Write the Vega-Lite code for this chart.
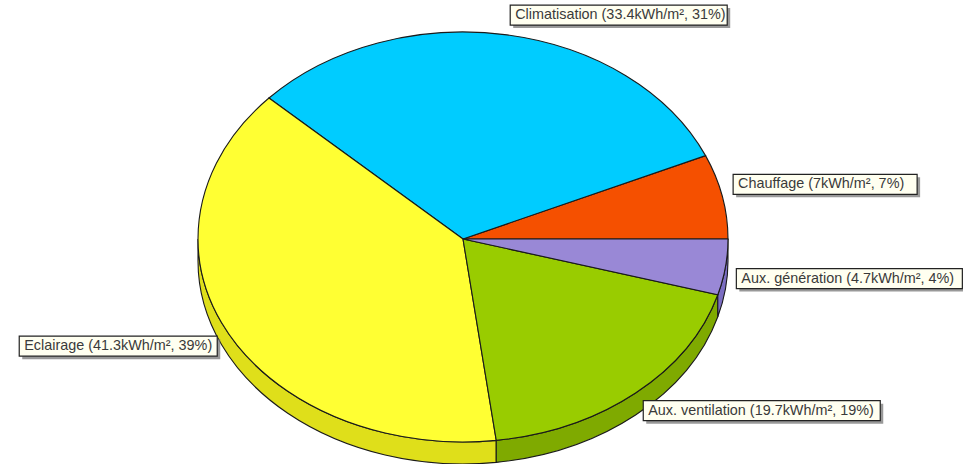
{
  "$schema": "https://vega.github.io/schema/vega-lite/v6.json",
  "width": 963,
  "height": 464,
  "padding": 0,
  "autosize": "none",
  "background": "white",
  "view": {"stroke": null},
  "resolve": {"scale": {"fill": "independent"}},
  "data": {"values": [
    {"slice": "Chauffage", "value": 7, "label": "Chauffage (7kWh/m², 7%)"},
    {"slice": "Climatisation", "value": 33.4, "label": "Climatisation (33.4kWh/m², 31%)"},
    {"slice": "Eclairage", "value": 41.3, "label": "Eclairage (41.3kWh/m², 39%)"},
    {"slice": "Aux. ventilation", "value": 19.7, "label": "Aux. ventilation (19.7kWh/m², 19%)"},
    {"slice": "Aux. génération", "value": 4.7, "label": "Aux. génération (4.7kWh/m², 4%)"}
  ]},
  "transform": [
    {"window": [{"op": "sum", "field": "value", "as": "s1"}], "frame": [null, 0]},
    {"calculate": "datum.s1-datum.value", "as": "s0"},
    {"joinaggregate": [{"op": "sum", "field": "value", "as": "total"}]},
    {"calculate": "datum.s0/datum.total*2*PI", "as": "a0"},
    {"calculate": "datum.s1/datum.total*2*PI", "as": "a1"},
    {"calculate": "round(265*cos(datum.a0)*100)/100+','+round(-(sin(datum.a0)>=0?207:203)*sin(datum.a0)*100)/100", "as": "p0"},
    {"calculate": "round(265*cos(datum.a1)*100)/100+','+round(-(sin(datum.a1)>=0?207:203)*sin(datum.a1)*100)/100", "as": "p1"},
    {"calculate": "'M0,0L'+datum.p0+((datum.a0<PI&&datum.a1>PI)?'A265,207 0 0 0 -265,0A265,203 0 0 0 '+datum.p1:'A265,'+(datum.a1<=PI?207:203)+' 0 0 0 '+datum.p1)+'Z'", "as": "topPath"},
    {"calculate": "max(datum.a0,PI)", "as": "b0"},
    {"calculate": "round(265*cos(datum.b0)*100)/100", "as": "bx0"},
    {"calculate": "round(-203*sin(datum.b0)*100)/100", "as": "by0"},
    {"calculate": "round(265*cos(datum.a1)*100)/100", "as": "bx1"},
    {"calculate": "round(-203*sin(datum.a1)*100)/100", "as": "by1"},
    {"calculate": "'M'+datum.bx0+','+datum.by0+'A265,203 0 0 0 '+datum.bx1+','+datum.by1+'L'+datum.bx1+','+(datum.by1+22)+'A265,203 0 0 1 '+datum.bx0+','+(datum.by0+22)+'Z'", "as": "sidePath"},
    {"calculate": "(datum.a0+datum.a1)/2", "as": "mid"},
    {"calculate": "{'Chauffage':184,'Climatisation':217,'Eclairage':198,'Aux. ventilation':237,'Aux. génération':226}[datum.slice]", "as": "boxW"},
    {"calculate": "265*cos(datum.mid)", "as": "rimX"},
    {"calculate": "(sin(datum.mid)>=0?207:203)*sin(datum.mid)", "as": "rimY"},
    {"calculate": "1.5+9.5*abs(cos(datum.mid))", "as": "gapX"},
    {"calculate": "10+10*abs(sin(datum.mid))", "as": "gapY"},
    {"calculate": "cos(datum.mid)>=0?datum.rimX+datum.gapX:datum.rimX-datum.gapX-datum.boxW", "as": "boxL"},
    {"calculate": "datum.boxL+datum.boxW", "as": "boxR"},
    {"calculate": "sin(datum.mid)>=0?datum.rimY+datum.gapY:datum.rimY-datum.gapY", "as": "boxC"},
    {"calculate": "datum.boxC+10", "as": "boxT"},
    {"calculate": "datum.boxC-10", "as": "boxB"},
    {"calculate": "datum.boxL+3", "as": "shL"},
    {"calculate": "datum.boxR+3", "as": "shR"},
    {"calculate": "datum.boxT-3", "as": "shT"},
    {"calculate": "datum.boxB-3", "as": "shB"},
    {"calculate": "datum.boxL+5", "as": "textX"}
  ],
  "layer": [
    {
      "transform": [{"filter": "datum.a1>PI"}],
      "mark": {"type": "point", "filled": true, "size": 4, "opacity": 1, "stroke": "#1a1a1a", "strokeWidth": 1.1},
      "encoding": {
        "x": {"datum": 0, "type": "quantitative", "scale": {"domain": [-463, 500], "range": [0, 963]}, "axis": null},
        "y": {"datum": 0, "type": "quantitative", "scale": {"domain": [-225, 239], "range": [464, 0]}, "axis": null},
        "shape": {"field": "sidePath", "type": "nominal", "scale": null},
        "fill": {"field": "slice", "type": "nominal", "legend": null, "scale": {
          "domain": ["Chauffage", "Climatisation", "Eclairage", "Aux. ventilation", "Aux. génération"],
          "range": ["#C44000", "#00A3CC", "#DFDF1A", "#7FAA00", "#7B6DC2"]
        }}
      }
    },
    {
      "mark": {"type": "point", "filled": true, "size": 4, "opacity": 1, "stroke": "#1a1a1a", "strokeWidth": 1.1},
      "encoding": {
        "x": {"datum": 0, "type": "quantitative", "scale": {"domain": [-463, 500], "range": [0, 963]}, "axis": null},
        "y": {"datum": 0, "type": "quantitative", "scale": {"domain": [-225, 239], "range": [464, 0]}, "axis": null},
        "shape": {"field": "topPath", "type": "nominal", "scale": null},
        "fill": {"field": "slice", "type": "nominal", "legend": null, "scale": {
          "domain": ["Chauffage", "Climatisation", "Eclairage", "Aux. ventilation", "Aux. génération"],
          "range": ["#F55000", "#00CCFF", "#FFFF33", "#99CC00", "#9988D6"]
        }}
      }
    },
    {
      "mark": {"type": "rect", "fill": "#777777", "opacity": 0.75},
      "encoding": {
        "x": {"field": "shL", "type": "quantitative", "scale": {"domain": [-463, 500], "range": [0, 963]}, "axis": null},
        "x2": {"field": "shR"},
        "y": {"field": "shT", "type": "quantitative", "scale": {"domain": [-225, 239], "range": [464, 0]}, "axis": null},
        "y2": {"field": "shB"}
      }
    },
    {
      "mark": {"type": "rect", "fill": "#FFFFF0", "stroke": "#222222", "strokeWidth": 1.2},
      "encoding": {
        "x": {"field": "boxL", "type": "quantitative", "scale": {"domain": [-463, 500], "range": [0, 963]}, "axis": null},
        "x2": {"field": "boxR"},
        "y": {"field": "boxT", "type": "quantitative", "scale": {"domain": [-225, 239], "range": [464, 0]}, "axis": null},
        "y2": {"field": "boxB"}
      }
    },
    {
      "mark": {"type": "text", "align": "left", "baseline": "middle", "font": "Liberation Sans", "fontSize": 14.4, "fill": "#3a3a3a"},
      "encoding": {
        "x": {"field": "textX", "type": "quantitative", "scale": {"domain": [-463, 500], "range": [0, 963]}, "axis": null},
        "y": {"field": "boxC", "type": "quantitative", "scale": {"domain": [-225, 239], "range": [464, 0]}, "axis": null},
        "text": {"field": "label", "type": "nominal"}
      }
    }
  ]
}
